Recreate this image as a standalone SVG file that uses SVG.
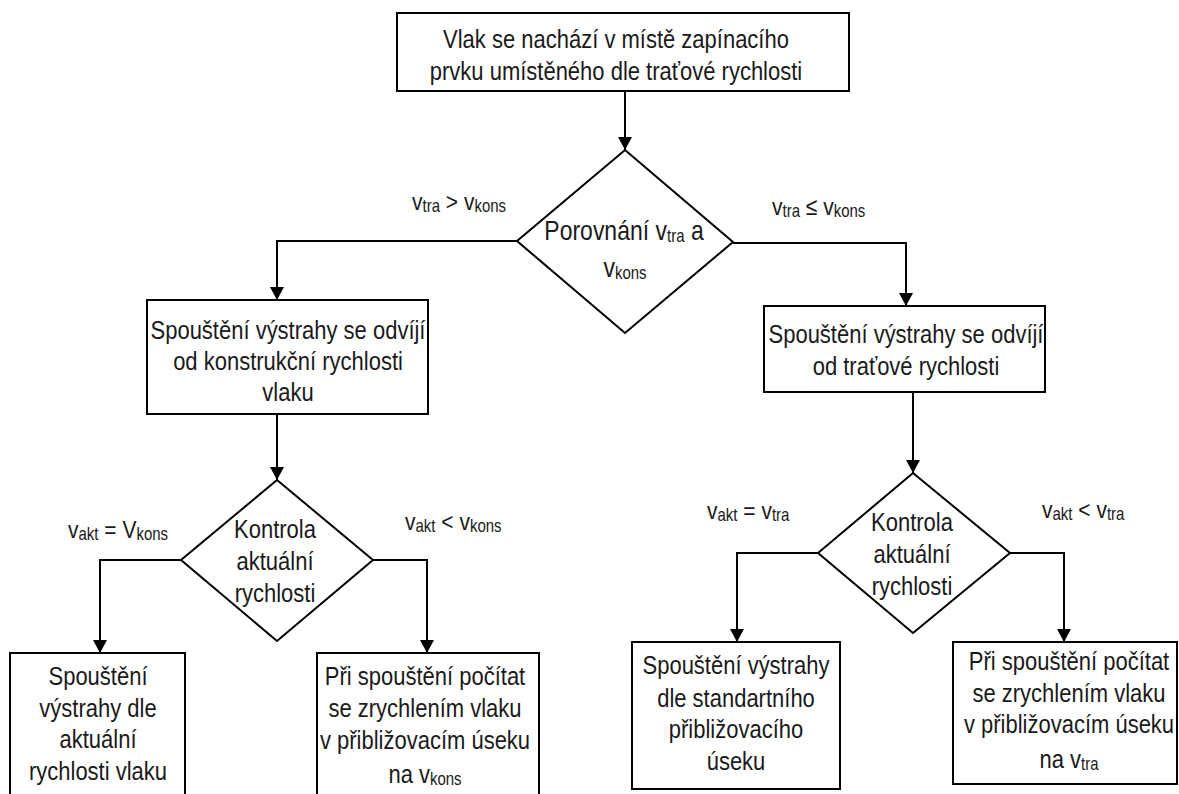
<svg xmlns="http://www.w3.org/2000/svg" width="1179" height="794" viewBox="0 0 1179 794">
  <defs>
    <marker id="arrow" markerUnits="userSpaceOnUse" markerWidth="14" markerHeight="14" refX="13" refY="7" orient="auto">
      <path d="M0,0 L13,7 L0,14 Z" fill="#000"/>
    </marker>
    <style>
      .box { fill: #fff; stroke: #000; stroke-width: 2; }
      .edge { fill: none; stroke: #000; stroke-width: 2; marker-end: url(#arrow); }
      text { font-family: "Liberation Sans", Arial, sans-serif; font-size: 22px; fill: #1a1a1a; }
      .c { text-anchor: middle; }
      .lbl { font-size: 21px; }
      .big { font-size: 23px; }
      .sub { font-size: 15px; }
    </style>
  </defs>
  <rect width="1179" height="794" fill="#fff"/>

  <!-- connectors -->
  <g id="connectors">
    <path class="edge" d="M625,91 V150"/>
    <path class="edge" d="M517,241 H277 V300"/>
    <path class="edge" d="M733,243 H906 V306"/>
    <path class="edge" d="M277,414 V480"/>
    <path class="edge" d="M913,392 V473"/>
    <path class="edge" d="M181,560 H100 V653"/>
    <path class="edge" d="M373,560 H427 V653"/>
    <path class="edge" d="M818,553 H737 V642"/>
    <path class="edge" d="M1010,553 H1064 V642"/>
  </g>

  <!-- edge labels (text stretched vertically about its baseline) -->
  <g id="edge-labels">
    <text class="lbl" transform="translate(412,210) scale(1,1.18)">v<tspan class="sub" dy="2">tra</tspan><tspan dy="-2"> &gt; v</tspan><tspan class="sub" dy="2">kons</tspan></text>
    <text class="lbl" transform="translate(772,215) scale(1,1.18)">v<tspan class="sub" dy="2">tra</tspan><tspan dy="-2"> ≤ v</tspan><tspan class="sub" dy="2">kons</tspan></text>
    <text class="lbl" transform="translate(68,538) scale(1,1.18)">v<tspan class="sub" dy="2">akt</tspan><tspan dy="-2"> = V</tspan><tspan class="sub" dy="2">kons</tspan></text>
    <text class="lbl" transform="translate(405,530) scale(1,1.18)">v<tspan class="sub" dy="2">akt</tspan><tspan dy="-2"> &lt; v</tspan><tspan class="sub" dy="2">kons</tspan></text>
    <text class="lbl" transform="translate(707,519) scale(1,1.18)">v<tspan class="sub" dy="2">akt</tspan><tspan dy="-2"> = v</tspan><tspan class="sub" dy="2">tra</tspan></text>
    <text class="lbl" transform="translate(1042,518) scale(1,1.18)">v<tspan class="sub" dy="2">akt</tspan><tspan dy="-2"> &lt; v</tspan><tspan class="sub" dy="2">tra</tspan></text>
  </g>

  <!-- start -->
  <g id="start">
    <rect class="box" x="397" y="13" width="452" height="78"/>
    <text class="c" transform="translate(616,48) scale(1,1.18)">Vlak se nachází v místě zapínacího</text>
    <text class="c" transform="translate(616,80) scale(1,1.18)">prvku umístěného dle traťové rychlosti</text>
  </g>

  <!-- first decision -->
  <g id="compare">
    <polygon class="box" points="625,150 733,242 625,333 517,241"/>
    <text class="c big" transform="translate(624,240) scale(1,1.18)">Porovnání v<tspan class="sub" font-size="16" dy="2">tra</tspan><tspan dy="-2"> a</tspan></text>
    <text class="c big" transform="translate(625,277) scale(1,1.18)">v<tspan class="sub" font-size="16" dy="2">kons</tspan></text>
  </g>

  <g id="by-design-speed">
    <rect class="box" x="147" y="300" width="281" height="114"/>
    <text class="c" transform="translate(288,339) scale(1,1.18)">Spouštění výstrahy se odvíjí</text>
    <text class="c" transform="translate(288,370) scale(1,1.18)">od konstrukční rychlosti</text>
    <text class="c" transform="translate(288,401) scale(1,1.18)">vlaku</text>
  </g>

  <g id="by-line-speed">
    <rect class="box" x="764" y="306" width="281" height="86"/>
    <text class="c" transform="translate(906,343) scale(1,1.18)">Spouštění výstrahy se odvíjí</text>
    <text class="c" transform="translate(906,375) scale(1,1.18)">od traťové rychlosti</text>
  </g>

  <!-- left decision -->
  <g id="check-left">
    <polygon class="box" points="277,480 373,560 277,641 181,560"/>
    <text class="c" transform="translate(275,538) scale(1,1.18)">Kontrola</text>
    <text class="c" transform="translate(275,570) scale(1,1.18)">aktuální</text>
    <text class="c" transform="translate(275,602) scale(1,1.18)">rychlosti</text>
  </g>

  <!-- right decision -->
  <g id="check-right">
    <polygon class="box" points="913,473 1010,553 913,633 818,553"/>
    <text class="c" transform="translate(912,531) scale(1,1.18)">Kontrola</text>
    <text class="c" transform="translate(912,563) scale(1,1.18)">aktuální</text>
    <text class="c" transform="translate(912,595) scale(1,1.18)">rychlosti</text>
  </g>

  <g id="warn-actual">
    <rect class="box" x="10" y="653" width="175" height="150"/>
    <text class="c" transform="translate(98,685) scale(1,1.18)">Spouštění</text>
    <text class="c" transform="translate(98,717) scale(1,1.18)">výstrahy dle</text>
    <text class="c" transform="translate(98,748) scale(1,1.18)">aktuální</text>
    <text class="c" transform="translate(98,780) scale(1,1.18)">rychlosti vlaku</text>
  </g>

  <g id="accel-kons">
    <rect class="box" x="317" y="653" width="222" height="150"/>
    <text class="c" transform="translate(425,685) scale(1,1.18)">Při spouštění počítat</text>
    <text class="c" transform="translate(425,717) scale(1,1.18)">se zrychlením vlaku</text>
    <text class="c" transform="translate(425,749) scale(1,1.18)">v přibližovacím úseku</text>
    <text class="c" transform="translate(425,783) scale(1,1.18)">na v<tspan class="sub" dy="2">kons</tspan></text>
  </g>

  <g id="warn-standard">
    <rect class="box" x="632" y="642" width="208" height="147"/>
    <text class="c" transform="translate(736,674) scale(1,1.18)">Spouštění výstrahy</text>
    <text class="c" transform="translate(736,707) scale(1,1.18)">dle standartního</text>
    <text class="c" transform="translate(736,738) scale(1,1.18)">přibližovacího</text>
    <text class="c" transform="translate(736,770) scale(1,1.18)">úseku</text>
  </g>

  <g id="accel-tra">
    <rect class="box" x="953" y="642" width="224" height="142"/>
    <text class="c" transform="translate(1069,670) scale(1,1.18)">Při spouštění počítat</text>
    <text class="c" transform="translate(1069,702) scale(1,1.18)">se zrychlením vlaku</text>
    <text class="c" transform="translate(1069,733) scale(1,1.18)">v přibližovacím úseku</text>
    <text class="c" transform="translate(1069,768) scale(1,1.18)">na v<tspan class="sub" dy="2">tra</tspan></text>
  </g>
</svg>
